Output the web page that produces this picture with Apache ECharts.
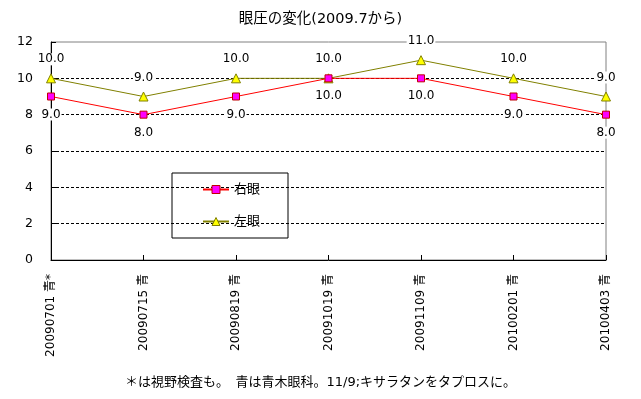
<!DOCTYPE html>
<html><head><meta charset="utf-8">
<script src="https://cdn.jsdelivr.net/npm/echarts@6/dist/echarts.min.js"></script>
<style>html,body{margin:0;padding:0;background:#fff}#c{width:641px;height:399px}</style>
</head><body><div id="c"></div>
<script>
const categories = ['20090701 青*','20090715 青','20090819 青','20091019 青','20091109 青','20100201 青','20100403 青'];
const rightEye = [9, 8, 9, 10, 10, 9, 8];
const leftEye = [10, 9, 10, 10, 11, 10, 9];
const yTicks = [0, 2, 4, 6, 8, 10, 12];
const F = "'DejaVu Sans', 'Noto Sans CJK JP', sans-serif";
const chart = echarts.init(document.getElementById('c'));
const lbl = (pos) => ({show: true, position: pos, distance: 8, formatter: p => p.value.toFixed(1),
  color: '#000', fontFamily: F, fontSize: 12, backgroundColor: '#fff', padding: [0, 1]});
chart.setOption({
  animation: false,
  title: {text: '眼圧の変化(2009.7から)', left: 'center', top: 7,
    textStyle: {fontFamily: F, fontSize: 14.5, fontWeight: 'normal', color: '#000'}},
  grid: {left: 51, right: 35, top: 42, bottom: 139, show: true, borderColor: '#808080', borderWidth: 1, backgroundColor: 'transparent'},
  xAxis: {type: 'category', data: categories, boundaryGap: false,
    axisLine: {lineStyle: {color: '#000'}}, axisTick: {show: true, inside: true, length: 5, lineStyle: {color: '#000'}},
    axisLabel: {rotate: 90, margin: 14, color: '#000', fontFamily: F, fontSize: 12}},
  yAxis: {type: 'value', min: 0, max: 12, interval: 2,
    axisLine: {show: true, lineStyle: {color: '#000'}}, axisTick: {show: true, inside: true, length: 5, lineStyle: {color: '#000'}},
    axisLabel: {margin: 18, color: '#000', fontFamily: F, fontSize: 12.5, formatter: v => yTicks.includes(v) ? String(v) : ''},
    splitLine: {show: true, lineStyle: {color: ['transparent','#000','#000','#000','#000','#000','transparent'], type: [3, 2], width: 1}}},
  legend: {orient: 'vertical', left: 172, top: 173, borderColor: '#000', borderWidth: 1,
    padding: [10, 28, 10, 30], itemGap: 19, itemWidth: 26, itemHeight: 10, itemStyle: {borderWidth: 1},
    textStyle: {fontFamily: F, fontSize: 13, color: '#000'},
    data: ['右眼', '左眼']},
  series: [
    {name: '右眼', type: 'line', data: rightEye, symbol: 'rect', symbolSize: 7,
      lineStyle: {color: '#ff0000', width: 1}, itemStyle: {color: '#ff00ff', borderColor: '#c00000', borderWidth: 1},
      label: lbl('bottom'), z: 3},
    {name: '左眼', type: 'line', data: leftEye, symbol: 'triangle', symbolSize: 9,
      lineStyle: {color: '#808000', width: 1}, itemStyle: {color: '#ffff00', borderColor: '#808000', borderWidth: 1},
      label: lbl('top'), z: 2}
  ],
  graphic: [{type: 'text', left: 'center', top: 376,
    style: {text: '＊は視野検査も。　青は青木眼科。11/9;キサラタンをタプロスに。', font: '13px ' + F, fill: '#000'}}]
});
</script></body></html>
